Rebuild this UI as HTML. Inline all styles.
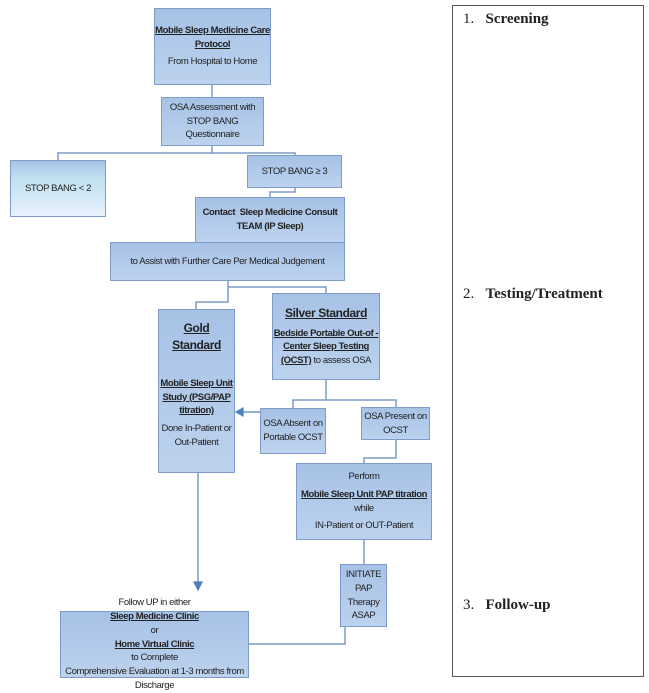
<!DOCTYPE html>
<html><head><meta charset="utf-8"><style>
body{margin:0;width:649px;height:684px;background:#fff;position:relative;overflow:hidden;font-family:"Liberation Sans",sans-serif;}
.b{position:absolute;box-sizing:border-box;border:1px solid #7e9cc8;background:linear-gradient(#a7c2e6,#bcd2ee);color:#222;font-size:9.5px;letter-spacing:-0.4px;text-align:center;line-height:1.45;display:flex;flex-direction:column;justify-content:center;align-items:center;}
u{text-decoration:underline;}
.bo{font-weight:bold;}
svg{position:absolute;left:0;top:0;}
.p{position:absolute;font-family:"Liberation Serif",serif;font-size:15px;color:#222;}
</style></head><body>
<svg width="649" height="684">
<g stroke="#7e9cc8" stroke-width="1.5" fill="none">
<path d="M212 85V97"/>
<path d="M212 146V153H58V160M212 153H295V155"/>
<path d="M295 188V192H270V197"/>
<path d="M228 281V287H326V293M228 287V302H196V309"/>
<path d="M326 380V400H293V408M326 400H396V407"/>
<path d="M396 440V458H364V463"/>
<path d="M364 540V564"/>
<path d="M345 627V644H249"/>
</g>
<g stroke="#4f81bd" stroke-width="1.2" fill="#4f81bd">
<path d="M260 412H242" fill="none"/><path d="M236 412L243 408V416Z"/>
<path d="M198 455V582" fill="none"/><path d="M198 590L194 582H202Z"/>
</g>
<rect x="452.5" y="5.5" width="191" height="671" fill="none" stroke="#555" stroke-width="1"/>
</svg>
<div class="b" style="left:154px;top:8px;width:117px;height:77px"><span class="bo"><u>Mobile Sleep Medicine Care Protocol</u></span><span style="margin-top:4px">From Hospital to Home</span></div>
<div class="b" style="left:161px;top:97px;width:103px;height:49px">OSA Assessment with<br>STOP BANG<br>Questionnaire</div>
<div class="b" style="left:10px;top:160px;width:96px;height:57px;background:linear-gradient(#a7c2e6,#bfe0f0 30%,#e8f1fb)">STOP BANG &lt; 2</div>
<div class="b" style="left:247px;top:155px;width:95px;height:33px">STOP BANG ≥ 3</div>
<div class="b bo" style="left:195px;top:197px;width:150px;height:46px">Contact&nbsp; Sleep Medicine Consult<br>TEAM (IP Sleep)</div>
<div class="b" style="left:110px;top:242px;width:235px;height:39px">to Assist with Further Care Per Medical Judgement</div>
<div class="b" style="left:158px;top:309px;width:77px;height:164px;justify-content:flex-start;padding-top:10px"><span class="bo" style="font-size:12px"><u>Gold Standard</u></span><span class="bo" style="margin-top:22px"><u>Mobile Sleep Unit Study (PSG/PAP titration)</u></span><span style="margin-top:4px">Done In-Patient or Out-Patient</span></div>
<div class="b" style="left:272px;top:293px;width:108px;height:87px"><span class="bo" style="font-size:12px"><u>Silver Standard</u></span><span style="margin-top:4px"><b><u>Bedside Portable Out-of - Center Sleep Testing (OCST)</u></b> to assess OSA</span></div>
<div class="b" style="left:260px;top:408px;width:66px;height:46px">OSA Absent on<br>Portable OCST</div>
<div class="b" style="left:361px;top:407px;width:69px;height:33px">OSA Present on<br>OCST</div>
<div class="b" style="left:296px;top:463px;width:136px;height:77px">Perform<span class="bo" style="margin-top:4px"><u>Mobile Sleep Unit PAP titration</u></span>while<span style="margin-top:4px">IN-Patient or OUT-Patient</span></div>
<div class="b" style="left:340px;top:564px;width:47px;height:63px">INITIATE<br>PAP<br>Therapy<br>ASAP</div>
<div class="b" style="left:60px;top:611px;width:189px;height:67px">Follow UP in either <b><u>Sleep Medicine Clinic </u></b>or<br><b><u>Home Virtual Clinic</u></b> to Complete<br>Comprehensive Evaluation at 1-3 months from<br>Discharge</div>
<div class="p" style="left:463px;top:11px">1.&nbsp;&nbsp;&nbsp;<b>Screening</b></div>
<div class="p" style="left:463px;top:286px">2.&nbsp;&nbsp;&nbsp;<b>Testing/Treatment</b></div>
<div class="p" style="left:463px;top:597px">3.&nbsp;&nbsp;&nbsp;<b>Follow-up</b></div>
</body></html>
